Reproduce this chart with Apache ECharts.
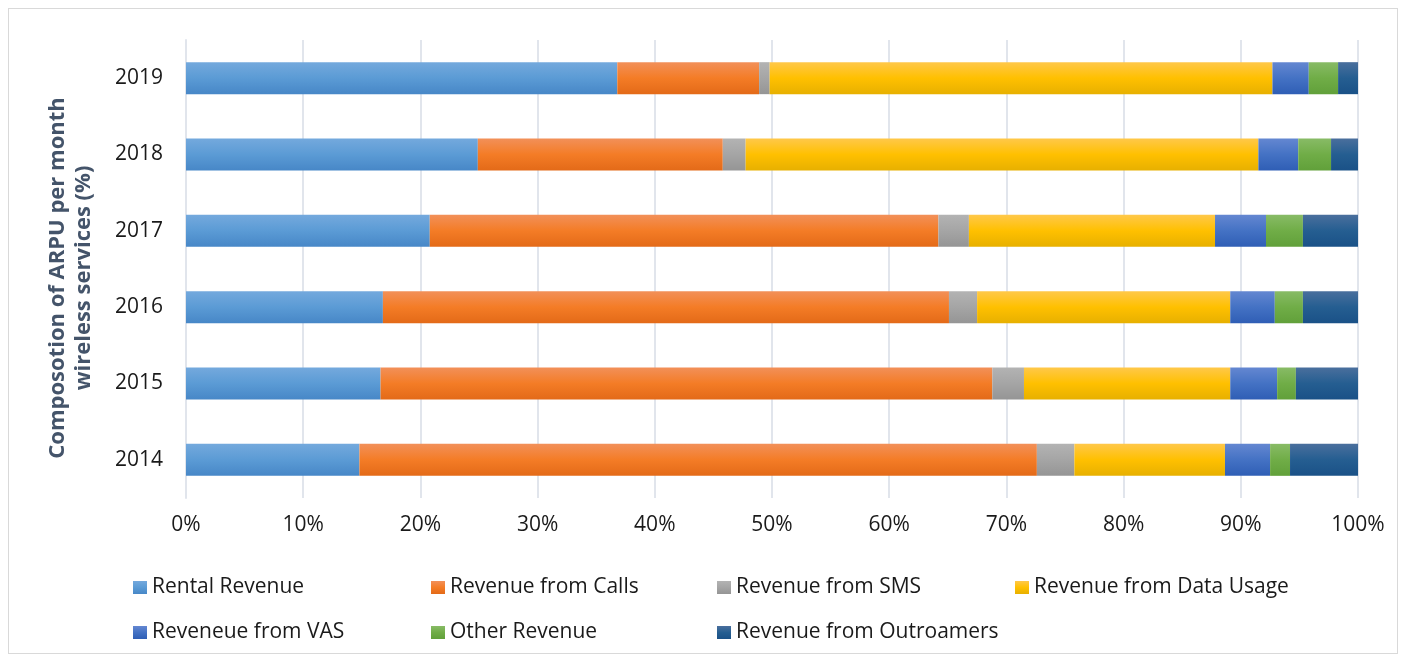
<!DOCTYPE html>
<html>
<head>
<meta charset="utf-8">
<script src="https://cdn.jsdelivr.net/npm/echarts@6/dist/echarts.min.js"></script>
<style>
    html,body{margin:0;padding:0;background:#fff;}
    .frame{position:absolute;left:8px;top:8px;width:1390px;height:646px;border:1px solid #d9d9d9;box-sizing:border-box;}
    #chart{position:absolute;left:0;top:0;width:1403px;height:656px;}
</style>
</head>
<body>
<div class="frame"></div>
<div id="chart"></div>
<script>
    // years, bottom to top
    var years = ['2014', '2015', '2016', '2017', '2018', '2019'];
    var seriesNames = ['Rental Revenue', 'Revenue from Calls', 'Revenue from SMS', 'Revenue from Data Usage',
        'Reveneue from VAS', 'Other Revenue', 'Revenue from Outroamers'];
    // share of ARPU in %
    var rental    = [14.8, 16.6, 16.8, 20.8, 24.9, 36.8];
    var calls     = [57.8, 52.2, 48.3, 43.4, 20.9, 12.1];
    var sms       = [3.2, 2.7, 2.4, 2.6, 1.95, 0.9];
    var dataUsage = [12.85, 17.6, 21.6, 21.0, 43.75, 42.9];
    var vas       = [3.85, 4.0, 3.8, 4.35, 3.4, 3.1];
    var other     = [1.7, 1.6, 2.4, 3.15, 2.8, 2.5];
    var outroam   = [5.8, 5.4, 4.7, 4.8, 2.5, 1.7];
    var xTicks = [0, 10, 20, 30, 40, 50, 60, 70, 80, 90, 100];

    var allValues = [rental, calls, sms, dataUsage, vas, other, outroam];
    // excel-like gradient fills: top, middle, bottom
    var fills = [
        ['#74a9dd', '#5b9bd5', '#4787c7'],
        ['#f29059', '#f47c26', '#e36a18'],
        ['#b3b3b3', '#a5a5a5', '#959595'],
        ['#ffc84a', '#ffc000', '#e7b000'],
        ['#6487d1', '#4472c4', '#2f5eb5'],
        ['#88bb66', '#70ad47', '#61a03a'],
        ['#4a6f9d', '#255e91', '#1a5187']
    ];
    function grad(c){
        return new echarts.graphic.LinearGradient(0, 0, 0, 1, [
            {offset: 0, color: c[0]}, {offset: 0.5, color: c[1]}, {offset: 1, color: c[2]}
        ]);
    }

    var font = '"Open Sans", sans-serif';
    var legendPos = [[128, 572], [426, 572], [712, 572], [1010, 572], [128, 617], [426, 617], [712, 617]];
    var legends = seriesNames.map(function(n, i){
        return {
            data: [n], left: legendPos[i][0], top: legendPos[i][1],
            icon: 'rect', itemWidth: 14, itemHeight: 13, itemGap: 6,
            selectedMode: false,
            textStyle: {fontFamily: font, fontSize: 21, color: '#1a1a1a'}
        };
    });

    var chart = echarts.init(document.getElementById('chart'));
    chart.setOption({
        animation: false,
        grid: {left: 186, right: 45, top: 40, bottom: 158},
        legend: legends,
        xAxis: {
            type: 'value', min: 0, max: 100, interval: 10,
            axisLine: {show: false}, axisTick: {show: false},
            splitLine: {lineStyle: {color: '#e1e5ec', width: 2}},
            axisLabel: {
                margin: 17, fontFamily: font, fontSize: 21, color: '#1a1a1a',
                formatter: function(v){ return xTicks.indexOf(v) >= 0 ? v + '%' : ''; }
            }
        },
        yAxis: {
            type: 'category', data: years,
            axisLine: {lineStyle: {color: '#e1e5ec', width: 2}},
            axisTick: {show: false},
            axisLabel: {margin: 23, fontFamily: font, fontSize: 21, color: '#1a1a1a'},
            name: 'Composotion of ARPU per month\nwireless services (%)',
            nameLocation: 'middle', nameRotate: 90, nameGap: 115,
            nameTextStyle: {fontFamily: font, fontSize: 22, fontWeight: 'bold', color: '#44546a',
                lineHeight: 26, align: 'center', verticalAlign: 'middle', padding: [0, 18, 0, 0]}
        },
        series: seriesNames.map(function(n, i){
            return {
                name: n, type: 'bar', stack: 'total', barWidth: 32,
                itemStyle: {color: grad(fills[i])},
                data: allValues[i]
            };
        })
    });
</script>
</body>
</html>
